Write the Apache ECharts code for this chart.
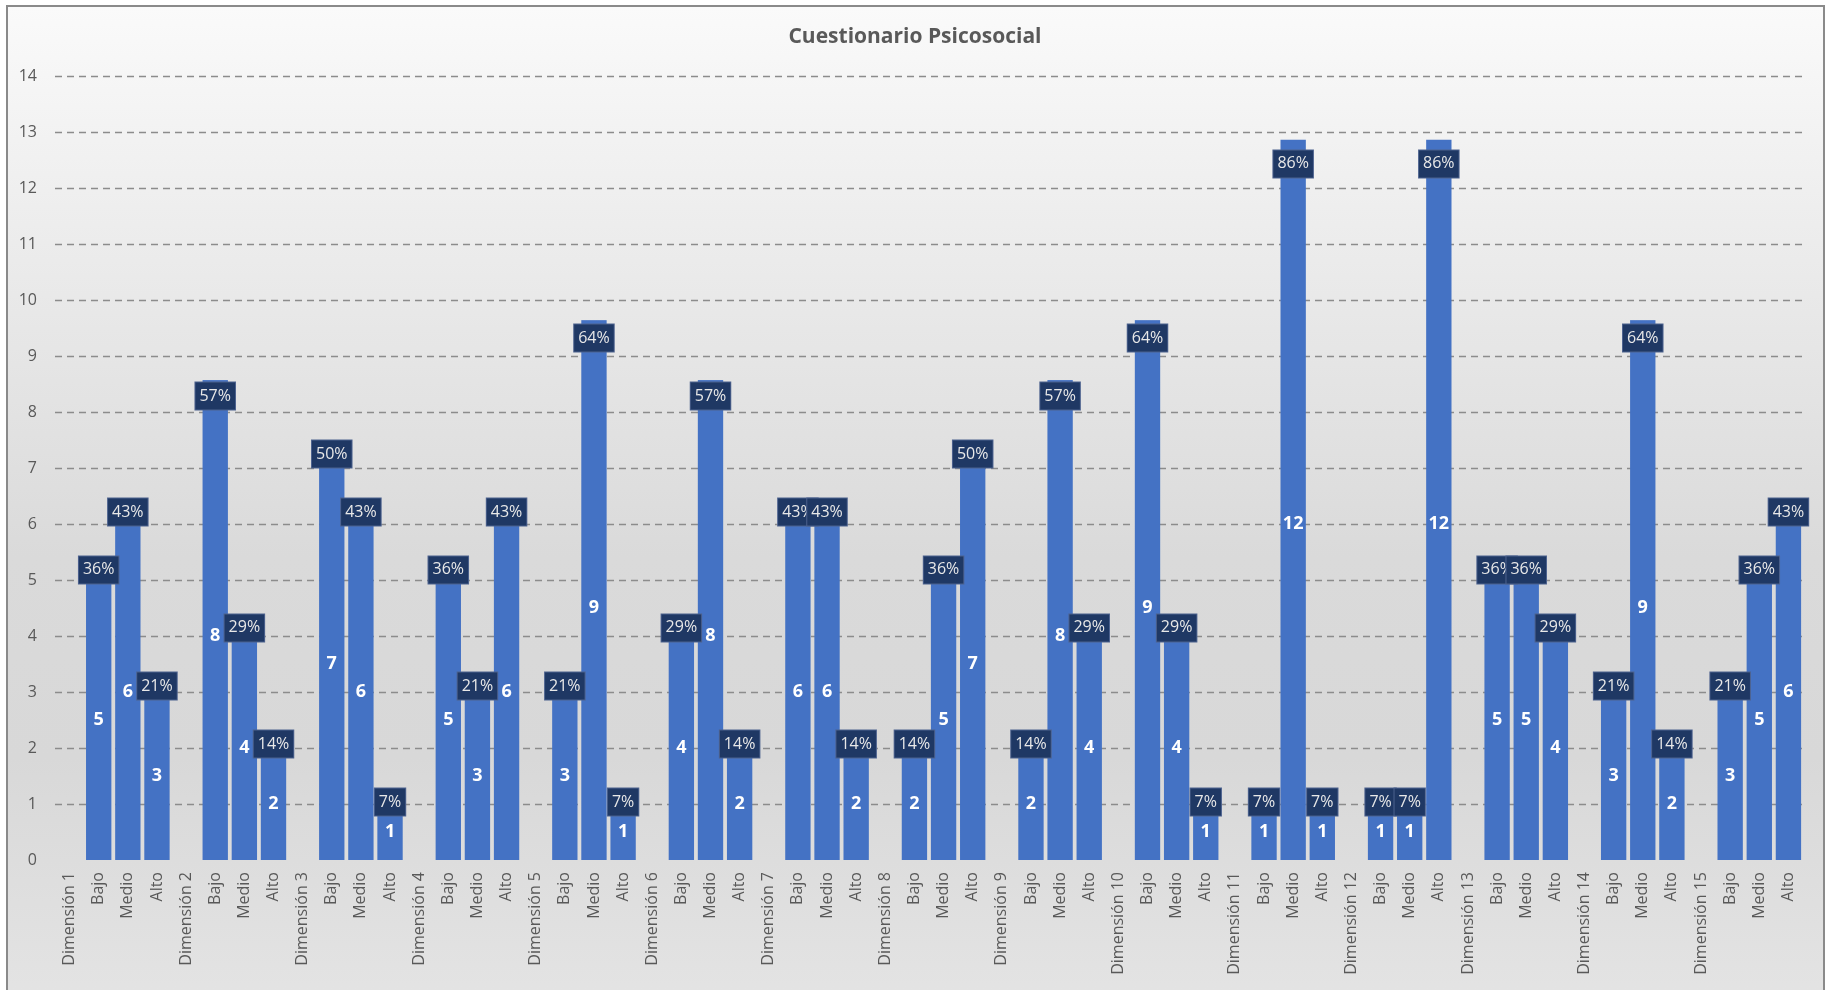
<!DOCTYPE html>
<html>
<head>
<meta charset="utf-8">
<script src="https://cdn.jsdelivr.net/npm/echarts@6/dist/echarts.min.js"></script>
<style>
html,body{margin:0;padding:0;width:1830px;height:990px;overflow:hidden;background:#ffffff;}
#bg{position:absolute;left:6px;top:5px;width:1815px;height:1000px;border:2px solid #8a8a8a;
 background:linear-gradient(to bottom,#fafafa 0%,#eeeeee 20%,#dadada 55%,#d8d8d8 75%,#e4e4e4 100%);}
#chart{position:absolute;left:0;top:0;width:1830px;height:990px;}
</style>
</head>
<body>
<div id="bg"></div>
<div id="chart"></div>
<script>
const title = 'Cuestionario Psicosocial';
const categories = [
 'Dimensión 1','Bajo','Medio','Alto',
 'Dimensión 2','Bajo','Medio','Alto',
 'Dimensión 3','Bajo','Medio','Alto',
 'Dimensión 4','Bajo','Medio','Alto',
 'Dimensión 5','Bajo','Medio','Alto',
 'Dimensión 6','Bajo','Medio','Alto',
 'Dimensión 7','Bajo','Medio','Alto',
 'Dimensión 8','Bajo','Medio','Alto',
 'Dimensión 9','Bajo','Medio','Alto',
 'Dimensión 10','Bajo','Medio','Alto',
 'Dimensión 11','Bajo','Medio','Alto',
 'Dimensión 12','Bajo','Medio','Alto',
 'Dimensión 13','Bajo','Medio','Alto',
 'Dimensión 14','Bajo','Medio','Alto',
 'Dimensión 15','Bajo','Medio','Alto'
];
const counts = [
 null,5,6,3,
 null,8,4,2,
 null,7,6,1,
 null,5,3,6,
 null,3,9,1,
 null,4,8,2,
 null,6,6,2,
 null,2,5,7,
 null,2,8,4,
 null,9,4,1,
 null,1,12,1,
 null,1,1,12,
 null,5,5,4,
 null,3,9,2,
 null,3,5,6
];
const percents = [
 null,36,43,21,
 null,57,29,14,
 null,50,43,7,
 null,36,21,43,
 null,21,64,7,
 null,29,57,14,
 null,43,43,14,
 null,14,36,50,
 null,14,57,29,
 null,64,29,7,
 null,7,86,7,
 null,7,7,86,
 null,36,36,29,
 null,21,64,14,
 null,21,36,43
];
const yTicks = [0,1,2,3,4,5,6,7,8,9,10,11,12,13,14];

const FONT = 'Open Sans';
const barColor = '#4472C4';
const chart = echarts.init(document.getElementById('chart'), null, {renderer:'canvas'});
chart.setOption({
  backgroundColor: 'transparent',
  animation: false,
  title: {
    text: title, left: 'center', top: 22,
    textStyle: {fontFamily: FONT, fontSize: 21, fontWeight: 'bold', color: '#595959'}
  },
  grid: {left: 55, right: 27, top: 76, bottom: 130, containLabel: false},
  xAxis: {
    type: 'category', data: categories,
    axisLine: {show: false}, axisTick: {show: false},
    axisLabel: {interval: 0, rotate: 90, margin: 12, fontFamily: FONT, fontSize: 16, color: '#595959'}
  },
  yAxis: {
    type: 'value', min: yTicks[0], max: yTicks[yTicks.length-1], interval: 1,
    axisLine: {show: false}, axisTick: {show: false},
    axisLabel: {margin: 18, fontFamily: FONT, fontSize: 16, color: '#595959',
      formatter: v => yTicks.indexOf(v) >= 0 ? String(v) : ''},
    splitLine: {show: true, showMinLine: false,
      lineStyle: {color: '#8c8c8c', width: 1.3, type: [7,5]}}
  },
  series: [
    {
      type: 'bar', stack: 'a', data: counts, barCategoryGap: '13%',
      itemStyle: {color: barColor},
      label: {show: true, position: 'inside', fontFamily: FONT, fontSize: 18, fontWeight: 'bold', color: '#ffffff',
        formatter: p => p.value == null ? '' : String(p.value)}
    },
    {
      type: 'bar', stack: 'a', data: percents.map(v => v == null ? null : v/100), barCategoryGap: '13%',
      itemStyle: {color: barColor},
      z: 3,
      label: {show: true, position: 'inside', fontFamily: FONT, fontSize: 16, color: '#e8e8e8',
        backgroundColor: '#1f3864', borderColor: '#4d628e', borderWidth: 1,
        padding: [5, 4, 4, 4], lineHeight: 18,
        formatter: p => percents[p.dataIndex] == null ? '' : percents[p.dataIndex] + '%'}
    }
  ]
});
</script>
</body>
</html>
